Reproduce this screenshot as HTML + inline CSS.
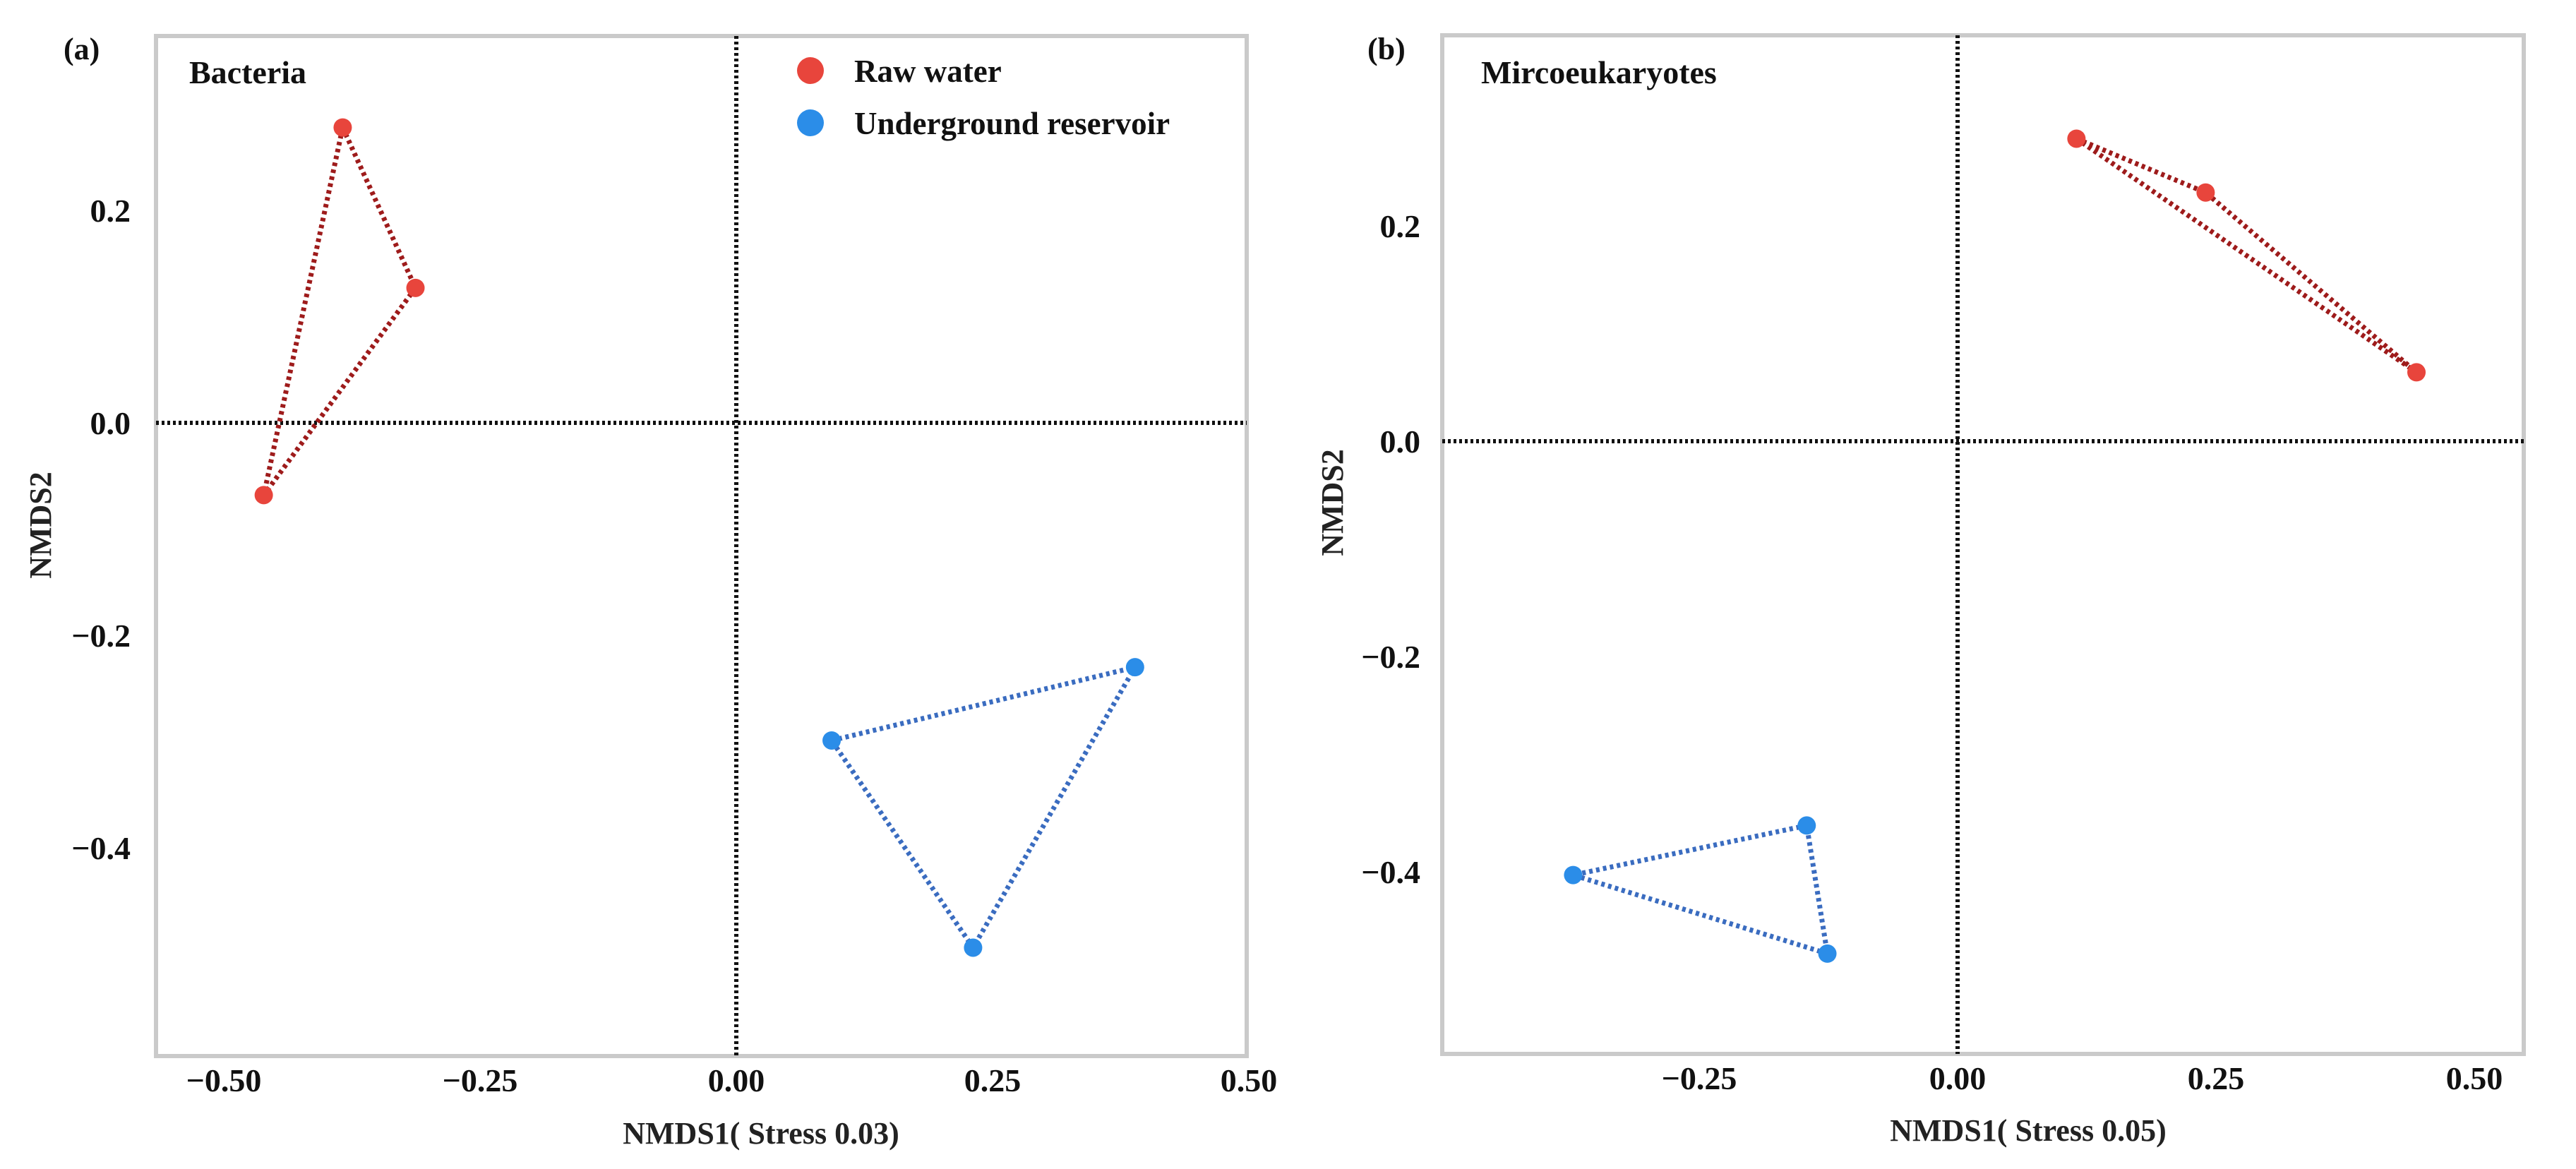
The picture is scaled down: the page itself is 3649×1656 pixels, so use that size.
<!DOCTYPE html>
<html><head><meta charset="utf-8"><style>
html,body{margin:0;padding:0;background:#fff;}
svg{display:block;font-family:"Liberation Serif",serif;font-weight:bold;}
</style></head><body>
<svg id="chart" width="3649" height="1656" viewBox="0 0 3649 1656" xmlns="http://www.w3.org/2000/svg"></svg>
<script>
// Panel (a) Bacteria
const bacRawX = [-0.384, -0.313, -0.461];
const bacRawY = [0.278, 0.127, -0.068];
const bacUndX = [0.093, 0.389, 0.231];
const bacUndY = [-0.299, -0.230, -0.494];
// Panel (b) Microeukaryotes
const micRawX = [0.115, 0.240, 0.444];
const micRawY = [0.281, 0.231, 0.064];
const micUndX = [-0.146, -0.372, -0.126];
const micUndY = [-0.357, -0.403, -0.476];
const xTicksA = [-0.5, -0.25, 0, 0.25, 0.5];
const xTickLabelsA = ["\u22120.50", "\u22120.25", "0.00", "0.25", "0.50"];
const xTicksB = [-0.25, 0, 0.25, 0.5];
const xTickLabelsB = ["\u22120.25", "0.00", "0.25", "0.50"];
const yTicks = [0.2, 0, -0.2, -0.4];
const yTickLabels = ["0.2", "0.0", "\u22120.2", "\u22120.4"];

const NS = "http://www.w3.org/2000/svg";
const svg = document.getElementById("chart");
function mk(tag, attrs, parent) {
  const e = document.createElementNS(NS, tag);
  for (const k in attrs) e.setAttribute(k, attrs[k]);
  (parent || svg).appendChild(e);
  return e;
}

function panel(cfg) {
  const g = mk("g", {});
  
  
  const sx = v => cfg.x0 + v / 0.25 * cfg.xu;
  const sy = v => cfg.y0 - v / 0.2 * cfg.yu;
  const f = cfg.frame;
  const fr = mk("rect", {x: f[0], y: f[1], width: f[2] - f[0], height: f[3] - f[1], fill: "none", stroke: "#cacaca", "stroke-width": 6}, g);
  
  
  const hz = mk("line", {x1: f[0], x2: f[2], y1: sy(0), y2: sy(0), stroke: "#111", "stroke-width": 6, "stroke-dasharray": "4 4"}, g);
  
  
  const vz = mk("line", {x1: sx(0), x2: sx(0), y1: f[1], y2: f[3], stroke: "#111", "stroke-width": 6, "stroke-dasharray": "4 4"}, g);
  
  
  cfg.xt.forEach((v, i) => {
    const t = mk("text", {x: sx(v), y: f[3] + 50, "font-size": 46, "text-anchor": "middle", fill: "#111"}, g);
    t.textContent = cfg.xl[i];
    
    
  });
  yTicks.forEach((v, i) => {
    const t = mk("text", {x: cfg.yLabX, y: sy(v) + 16, "font-size": 46, "text-anchor": "end", fill: "#111"}, g);
    t.textContent = yTickLabels[i];
    
    
  });
  const xt = mk("text", {x: cfg.xTitle[0], y: cfg.xTitle[1], "font-size": 44, "text-anchor": "middle", fill: "#222"}, g);
  xt.textContent = cfg.xTitleText;
  
  
  const yt = mk("text", {x: 0, y: 0, "font-size": 44, "text-anchor": "middle", fill: "#222", transform: `translate(${cfg.yTitle[0]},${cfg.yTitle[1]}) rotate(-90)`}, g);
  yt.textContent = "NMDS2";
  
  
  const pl = mk("text", {x: cfg.plab[0], y: cfg.plab[1], "font-size": 44, fill: "#111"}, g);
  pl.textContent = cfg.plabText;
  
  
  const tt = mk("text", {x: cfg.title[0], y: cfg.title[1], "font-size": 46, fill: "#111"}, g);
  tt.textContent = cfg.titleText;
  
  
  [[cfg.rx, cfg.ry, "#9e1b1b", "#e8453c", "raw-water"], [cfg.ux, cfg.uy, "#3a6cc0", "#2b8de8", "underground-reservoir"]].forEach(s => {
    const pts = s[0].map((v, i) => sx(v) + "," + sy(s[1][i])).join(" ");
    const poly = mk("polygon", {points: pts, fill: "none", stroke: s[2], "stroke-width": 7, "stroke-dasharray": "5 5"}, g);
    
    
    s[0].forEach((v, i) => {
      const c = mk("circle", {cx: sx(v), cy: sy(s[1][i]), r: 13, fill: s[3]}, g);
      
      
    });
  });
  return g;
}

panel({name: "panel-a-bacteria", x0: 1043, xu: 363, y0: 599, yu: 301, frame: [221, 51, 1766, 1496],
  xt: xTicksA, xl: xTickLabelsA, yLabX: 185, xTitle: [1078, 1620], xTitleText: "NMDS1( Stress 0.03)",
  yTitle: [72, 744], plab: [90, 84], plabText: "(a)", title: [268, 118], titleText: "Bacteria",
  rx: bacRawX, ry: bacRawY, ux: bacUndX, uy: bacUndY});
panel({name: "panel-b-microeukaryotes", x0: 2773, xu: 366, y0: 625, yu: 305, frame: [2043, 50, 3575, 1493],
  xt: xTicksB, xl: xTickLabelsB, yLabX: 2012, xTitle: [2873, 1616], xTitleText: "NMDS1( Stress 0.05)",
  yTitle: [1902, 712], plab: [1937, 84], plabText: "(b)", title: [2098, 118], titleText: "Mircoeukaryotes",
  rx: micRawX, ry: micRawY, ux: micUndX, uy: micUndY});

const lg = mk("g", {});


[["Raw water", "#e8453c", 100, "legend-entry-raw-water"], ["Underground reservoir", "#2b8de8", 174, "legend-entry-underground-reservoir"]].forEach(e => {
  const c = mk("circle", {cx: 1148, cy: e[2], r: 19, fill: e[1]}, lg);
  
  
  const t = mk("text", {x: 1210, y: e[2] + 16, "font-size": 45, fill: "#111"}, lg);
  t.textContent = e[0];
  
  
});
</script>
</body></html>
